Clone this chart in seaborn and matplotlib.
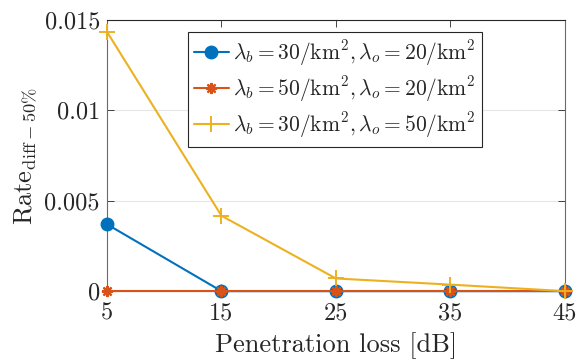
import matplotlib
matplotlib.use("Agg")
import matplotlib.pyplot as plt
import seaborn as sns
import pandas as pd

# Penetration loss values (dB) and rate-difference curves
penetration_loss = [5, 15, 25, 35, 45]
rate_b30_o20 = [0.0037, 0.0, 0.0, 0.0, 0.0]
rate_b50_o20 = [0.0, 0.0, 0.0, 0.0, 0.0]
rate_b30_o50 = [0.01435, 0.00417, 0.0007, 0.00036, 0.0]

labels = [
    r"$\lambda_b = 30/\mathrm{km}^2, \lambda_o = 20/\mathrm{km}^2$",
    r"$\lambda_b = 50/\mathrm{km}^2, \lambda_o = 20/\mathrm{km}^2$",
    r"$\lambda_b = 30/\mathrm{km}^2, \lambda_o = 50/\mathrm{km}^2$",
]
colors = ["#0072BD", "#D95319", "#EDB120"]
x_ticks = [5, 15, 25, 35, 45]
y_ticks = [0, 0.005, 0.01, 0.015]
y_ticklabels = ["0", "0.005", "0.01", "0.015"]

sns.set_style("ticks")
plt.rcParams["font.family"] = ["serif"]
plt.rcParams["font.serif"] = ["cmr10", "DejaVu Serif"]
plt.rcParams["mathtext.fontset"] = "cm"
plt.rcParams["axes.unicode_minus"] = False

fig = plt.figure(figsize=(5.78, 3.63), dpi=100)
ax = fig.add_axes([0.185, 0.198, 0.7925, 0.747])

series = [rate_b30_o20, rate_b50_o20, rate_b30_o50]
markers = ["o", (8, 2, 0), "+"]
msizes = [9, 8, 11]
mew = [1, 1.6, 1.4]
for vals, lab, col, mk, ms, mw in zip(series, labels, colors, markers, msizes, mew):
    df = pd.DataFrame({"loss": penetration_loss, "rate": vals})
    sns.lineplot(data=df, x="loss", y="rate", ax=ax, color=col, label=lab,
                 marker=mk, markersize=ms, markeredgewidth=mw,
                 markeredgecolor=col, linewidth=1.5, clip_on=False, zorder=3)

ax.set_xlim(5, 45)
ax.set_ylim(0, 0.015)
ax.set_xticks(x_ticks)
ax.set_xticklabels([str(v) for v in x_ticks])
ax.set_yticks(y_ticks)
ax.set_yticklabels(y_ticklabels)
ax.yaxis.grid(True, color="#e6e6e6", linewidth=0.8)
ax.set_axisbelow(True)
ax.tick_params(direction="in", length=5, width=0.6, top=True, right=True,
               labelsize=17.5, colors="#262626")
ax.tick_params(axis="x", pad=8)
ax.tick_params(axis="y", pad=5)
for side in ["left", "right", "bottom"]:
    ax.spines[side].set_color("#6a6a6a")
    ax.spines[side].set_linewidth(0.8)
ax.spines["top"].set_color("#262626")
ax.spines["top"].set_linewidth(0.8)

ax.set_xlabel("Penetration loss [dB]", fontsize=19, color="#262626", labelpad=6)
ax.set_ylabel(r"$\mathrm{Rate}_{\mathrm{diff}-50\%}$", fontsize=19, color="#262626", labelpad=4)

leg = ax.legend(loc="upper right", bbox_to_anchor=(0.819, 0.956), fontsize=15.5,
                frameon=True, fancybox=False, framealpha=1, edgecolor="#262626",
                handlelength=1.6, handletextpad=0.2, borderpad=0.3,
                labelspacing=0.3, borderaxespad=0)
leg.get_frame().set_linewidth(0.8)

fig.savefig("out.png", dpi=100)
